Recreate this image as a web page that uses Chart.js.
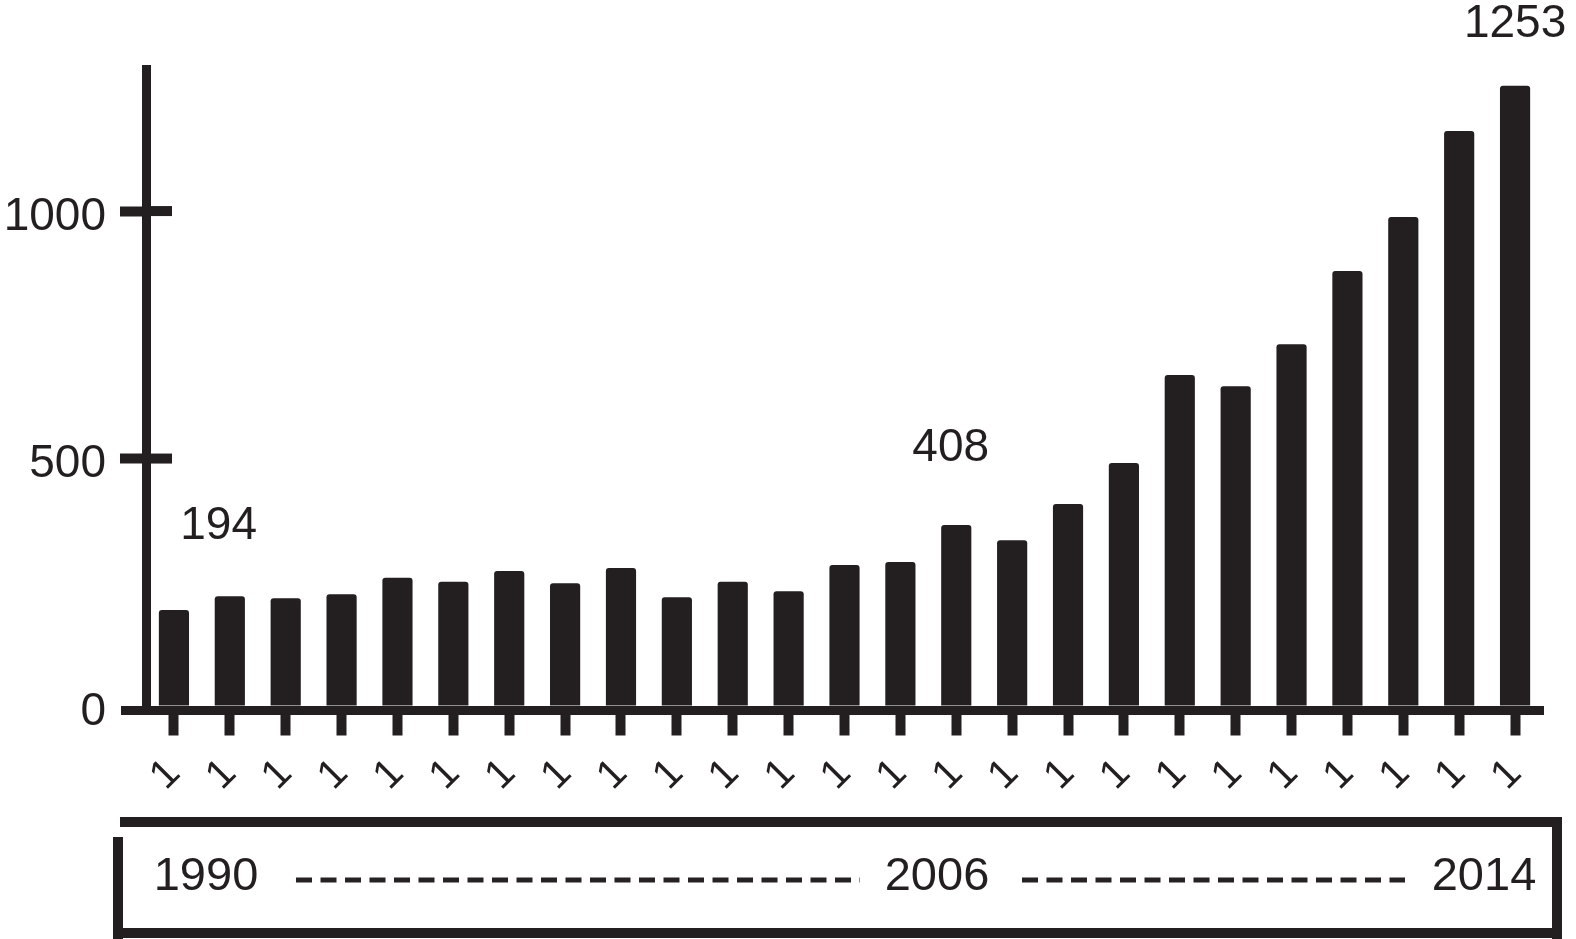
<!DOCTYPE html>
<html>
<head>
<meta charset="utf-8">
<script src="https://cdn.jsdelivr.net/npm/chart.js@4"></script>
<style>
  html, body { margin: 0; padding: 0; background: #fff; }
  #wrap { width: 1576px; height: 939px; }
</style>
</head>
<body>
<div id="wrap"><canvas id="chart" width="1576" height="939"></canvas></div>
<script>
// Years shown (one bar per year)
const years = ["1990", "1991", "1992", "1993", "1994", "1995", "1996", "1997", "1998",
  "1999", "2000", "2001", "2002", "2003", "2004", "2005", "2006", "2007", "2008",
  "2009", "2010", "2011", "2012", "2013", "2014"];

// Bar values
const counts = [194, 222, 218, 226, 259, 251, 273, 248, 279, 220, 251, 232, 285,
  291, 366, 335, 408, 491, 669, 646, 731, 879, 988, 1162, 1253];

// What is printed under each tick (only a rotated "1" is visible)
const xTickLabels = ["1", "1", "1", "1", "1", "1", "1", "1", "1", "1", "1", "1", "1",
  "1", "1", "1", "1", "1", "1", "1", "1", "1", "1", "1", "1"];

const yTicks = [0, 500, 1000];

// Value labels above the bars
const noteTexts = ["194", "408", "1253"];

// Labels in the year box below the axis
const boxLabels = ["1990", "2006", "2014"];

const ink = "#231f20";
const font = "'Liberation Sans', Arial, Helvetica, sans-serif";

// ===========================
// Extra drawing: inner y ticks, axis stub, notes, year box
// ===========================
const notePos = [
  { index: 0.8, value: 364 },
  { index: 13.9, value: 521 },
  { index: 24, value: 1378 }
];

const extras = {
  id: "extras",
  afterDraw(chart) {
    const ctx = chart.ctx;
    const x = chart.scales.x;
    const y = chart.scales.y;
    const area = chart.chartArea;
    ctx.save();
    ctx.fillStyle = ink;

    // x axis line runs a little left of the y axis
    ctx.fillRect(121, area.bottom - 4.5, area.left - 121, 9);

    // y ticks cross the axis
    yTicks.forEach(v => {
      if (v === 0) return;
      const py = y.getPixelForValue(v);
      ctx.fillRect(area.left, py - 5, 26, 10);
    });

    // notes
    ctx.font = "46px " + font;
    ctx.textAlign = "center";
    ctx.textBaseline = "middle";
    noteTexts.forEach((t, i) => {
      ctx.fillText(t, x.getPixelForValue(notePos[i].index), y.getPixelForValue(notePos[i].value));
    });

    // year box
    ctx.fillRect(120, 817, 1442, 10);
    ctx.fillRect(113, 837, 10, 102);
    ctx.fillRect(1552, 817, 10, 122);
    ctx.fillRect(113, 928, 1449, 10);

    ctx.font = "47px " + font;
    ctx.fillText(boxLabels[0], 206, 877);
    ctx.fillText(boxLabels[1], 937, 877);
    ctx.fillText(boxLabels[2], 1484, 877);

    ctx.strokeStyle = "#262223";
    ctx.lineWidth = 5;
    ctx.setLineDash([16, 8.5]);
    ctx.beginPath();
    ctx.moveTo(296, 880); ctx.lineTo(860, 880);
    ctx.moveTo(1022, 880); ctx.lineTo(1405, 880);
    ctx.stroke();
    ctx.restore();
  }
};

const chart = new Chart(document.getElementById("chart"), {
  type: "bar",
  data: {
    labels: years,
    datasets: [{
      data: counts,
      backgroundColor: ink,
      borderWidth: 0,
      borderRadius: { topLeft: 3, topRight: 3 },
      borderSkipped: "bottom",
      barPercentage: 0.54,
      categoryPercentage: 1
    }]
  },
  options: {
    responsive: false,
    animation: false,
    layout: { padding: { left: 0, right: 33, top: 69.5, bottom: 0 } },
    plugins: { legend: { display: false }, tooltip: { enabled: false } },
    scales: {
      x: {
        offset: true,
        afterFit: s => { s.height = 228.5; },
        grid: {
          offset: false,
          drawOnChartArea: false,
          drawTicks: true,
          tickLength: 25,
          tickWidth: 10,
          tickColor: ink
        },
        border: { display: true, width: 9, color: ink },
        ticks: {
          autoSkip: false,
          minRotation: 45,
          maxRotation: 45,
          padding: 14,
          color: ink,
          font: { family: font, size: 41 },
          callback: (v, i) => xTickLabels[i]
        }
      },
      y: {
        min: -9,
        max: 1286,
        afterFit: s => { s.width = 146; },
        afterBuildTicks: s => { s.ticks = yTicks.map(v => ({ value: v })); },
        grid: {
          drawOnChartArea: false,
          drawTicks: true,
          tickLength: 26,
          tickWidth: 10,
          tickColor: c => (c.tick && c.tick.value === 0 ? "rgba(0,0,0,0)" : ink)
        },
        border: { display: true, width: 9, color: ink },
        ticks: {
          padding: 14,
          labelOffset: 6,
          color: ink,
          font: { family: font, size: 46 },
          callback: v => String(v)
        }
      }
    }
  },
  plugins: [extras]
});
</script>
</body>
</html>
